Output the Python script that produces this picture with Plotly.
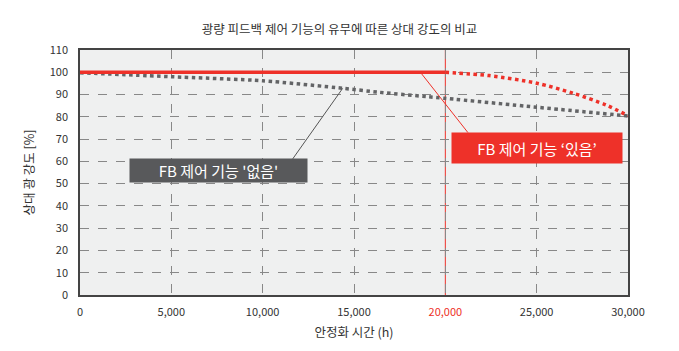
import plotly.graph_objects as go

# Data
fb_on_solid_x = [0, 20000]
fb_on_solid_y = [100, 100]
fb_on_dot_x = [20000, 22400, 25000, 27000, 28800, 30000]
fb_on_dot_y = [100, 98.5, 95.1, 90.6, 85.3, 80.5]
fb_off_x = [0, 5000, 10000, 14400, 16400, 20000, 25000, 30000]
fb_off_y = [99.8, 98.0, 96.2, 92.8, 91.0, 88.3, 84.3, 80.4]

x_ticks = [0, 5000, 10000, 15000, 20000, 25000, 30000]
x_ticktext = ["0", "5,000", "10,000", "15,000",
              "<span style='color:#ee3129'>20,000</span>", "25,000", "30,000"]
y_ticks = list(range(0, 111, 10))

title = "광량 피드백 제어 기능의 유무에 따른 상대 강도의 비교"
x_title = "안정화 시간 (h)"
y_title = "상대 광 강도 [%]"
label_off = "FB 제어 기능 '없음'"
label_on = "FB 제어 기능 ‘있음’"

RED = "#ee3129"
GRAY = "#636466"
FONT = "Noto Sans CJK KR"

fig = go.Figure()
fig.add_trace(go.Scatter(x=fb_off_x, y=fb_off_y, mode="lines",
                         line=dict(color=GRAY, width=3.5, dash="dot", shape="spline", smoothing=0.6),
                         showlegend=False, hoverinfo="skip"))
fig.add_trace(go.Scatter(x=fb_on_dot_x, y=fb_on_dot_y, mode="lines",
                         line=dict(color=RED, width=3.5, dash="dot", shape="spline", smoothing=0.8),
                         showlegend=False, hoverinfo="skip"))
fig.add_trace(go.Scatter(x=fb_on_solid_x, y=fb_on_solid_y, mode="lines",
                         line=dict(color=RED, width=3.5),
                         showlegend=False, hoverinfo="skip"))

# vertical marker at 20000
fig.add_shape(type="line", xref="x", yref="paper", x0=20000, x1=20000, y0=0, y1=1,
              line=dict(color=RED, width=1), layer="below")
# connectors
fig.add_shape(type="line", xref="x", yref="y", x0=11644, y0=61.1, x1=14381, y1=92.8,
              line=dict(color="#555555", width=1))
fig.add_shape(type="line", xref="x", yref="y", x0=21240, y0=72.9, x1=18635, y1=100,
              line=dict(color=RED, width=1))

fig.add_annotation(x=7558, y=55.7, xref="x", yref="y", text=label_off, showarrow=False,
                   bgcolor="#58595b", width=175, height=21, borderpad=1,
                   font=dict(family=FONT, size=15, color="white"))
fig.add_annotation(x=25029, y=66.1, xref="x", yref="y", text=label_on, showarrow=False,
                   bgcolor=RED, width=168, height=28, borderpad=1,
                   font=dict(family=FONT, size=15, color="white"))

fig.update_layout(
    width=679, height=351,
    margin=dict(l=80, r=51, t=50, b=56),
    paper_bgcolor="white", plot_bgcolor="#eff0f0",
    font=dict(family=FONT, size=11, color="#333333"),
    title=dict(text=title, x=0.5, xanchor="center", y=1 - 30 / 351, yanchor="middle",
               font=dict(family=FONT, size=12.5, color="#333333")),
    xaxis=dict(range=[0, 30000], tickvals=x_ticks, ticktext=x_ticktext,
               showgrid=True, gridcolor="#888888", griddash="dash", gridwidth=1,
               showline=True, linecolor="#444444", linewidth=1.5, mirror=True,
               zeroline=False, ticks="", ticklabelstandoff=6,
               title=dict(text=x_title, font=dict(size=12.5), standoff=10)),
    yaxis=dict(range=[0, 110], tickvals=y_ticks,
               showgrid=True, gridcolor="#888888", griddash="dash", gridwidth=1,
               showline=True, linecolor="#444444", linewidth=1.5, mirror=True,
               zeroline=False, ticks="", ticklabelstandoff=8,
               title=dict(text=y_title, font=dict(size=12.5), standoff=12)),
)

fig.write_html("out.html")
